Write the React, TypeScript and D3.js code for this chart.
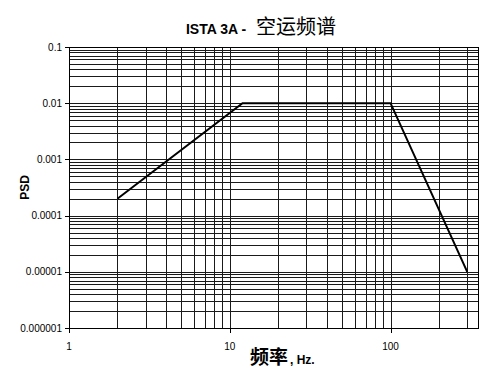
import React from "react";
import * as d3 from "d3";

// Air transport PSD profile (frequency Hz, PSD g²/Hz)
const freqs = [2, 12, 100, 300];
const psd = [0.0002, 0.01, 0.01, 0.00001];

const xTickValues = [1, 10, 100];
const xTickLabels = ["1", "10", "100"];
const yTickValues = [0.1, 0.01, 0.001, 0.0001, 0.00001, 0.000001];
const yTickLabels = ["0.1", "0.01", "0.001", "0.0001", "0.00001", "0.000001"];

const W = 504;
const H = 378;
const M = { left: 69, right: 478, top: 47, bottom: 328 };

export default function App() {
  const x = d3.scaleLog().domain([1, 350]).range([M.left, M.right]);
  const y = d3.scaleLog().domain([0.000001, 0.1]).range([M.bottom, M.top]);

  // minor grid values: 1..9 × each decade
  const xGrid: number[] = [];
  for (let p = 0; p <= 2; p++) {
    for (let k = 1; k <= 9; k++) {
      const v = k * Math.pow(10, p);
      if (v > 1 && v < 350) xGrid.push(v);
    }
  }
  const yGrid: number[] = [];
  for (let p = -6; p <= -2; p++) {
    for (let k = 1; k <= 9; k++) {
      const v = k * Math.pow(10, p);
      if (v > 0.000001 * 1.0001 && v < 0.1 * 0.9999) yGrid.push(v);
    }
  }

  const crisp = (v: number) => Math.round(v) + 0.5;

  const line = d3
    .line<number>()
    .x((_, i) => x(freqs[i]))
    .y((_, i) => y(psd[i]));

  const font = "'Liberation Sans', Arial, sans-serif";
  const cjk = "'Noto Sans CJK SC', sans-serif";

  return (
    <svg
      width={W}
      height={H}
      style={{ position: "absolute", left: 0, top: 0, background: "#fff" }}
    >
      <rect x={0} y={0} width={W} height={H} fill="#fff" />
      {/* title */}
      <text
        x={261}
        y={34}
        textAnchor="middle"
        fontFamily={font}
        fontWeight="bold"
        fontSize={14}
        fill="#000"
      >
        <tspan>ISTA 3A - </tspan>
        <tspan fontFamily={cjk} fontSize={20} fontWeight="normal" dx={6}>
          空运频谱
        </tspan>
      </text>

      {/* grid */}
      <g stroke="#1a1a1a" strokeWidth={1} shapeRendering="crispEdges">
        {xGrid.map((v) => (
          <line key={"x" + v} x1={crisp(x(v))} x2={crisp(x(v))} y1={M.top} y2={M.bottom} />
        ))}
        {yGrid.map((v) => (
          <line key={"y" + v} x1={M.left} x2={M.right} y1={crisp(y(v))} y2={crisp(y(v))} />
        ))}
      </g>

      {/* frame */}
      <rect
        x={crisp(M.left)}
        y={crisp(M.top)}
        width={Math.round(M.right - M.left)}
        height={Math.round(M.bottom - M.top)}
        fill="none"
        stroke="#000"
        shapeRendering="crispEdges"
      />

      {/* ticks and labels */}
      <g fontFamily={font} fontSize={10} fill="#000">
        {yTickValues.map((v, i) => (
          <g key={"yt" + v}>
            <line
              x1={M.left - 4}
              x2={M.left}
              y1={crisp(y(v))}
              y2={crisp(y(v))}
              stroke="#000"
              shapeRendering="crispEdges"
            />
            <text x={M.left - 7} y={y(v) + 3.5} textAnchor="end">
              {yTickLabels[i]}
            </text>
          </g>
        ))}
        {xTickValues.map((v, i) => (
          <g key={"xt" + v}>
            <line
              x1={crisp(x(v))}
              x2={crisp(x(v))}
              y1={M.bottom}
              y2={M.bottom + 5}
              stroke="#000"
              shapeRendering="crispEdges"
            />
            <text x={x(v)} y={M.bottom + 22} textAnchor="middle">
              {xTickLabels[i]}
            </text>
          </g>
        ))}
      </g>

      {/* axis titles */}
      <text
        transform={`translate(29, ${(M.top + M.bottom) / 2}) rotate(-90)`}
        textAnchor="middle"
        fontFamily={font}
        fontWeight="bold"
        fontSize={12}
      >
        PSD
      </text>
      <text x={250} y={364} textAnchor="start" fontWeight="bold">
        <tspan fontFamily={cjk} fontSize={19}>
          频率
        </tspan>
        <tspan fontFamily={font} fontSize={12} dx={2}>
          , Hz.
        </tspan>
      </text>

      {/* PSD curve */}
      <path d={line(freqs) || ""} fill="none" stroke="#000" strokeWidth={2} />
    </svg>
  );
}
